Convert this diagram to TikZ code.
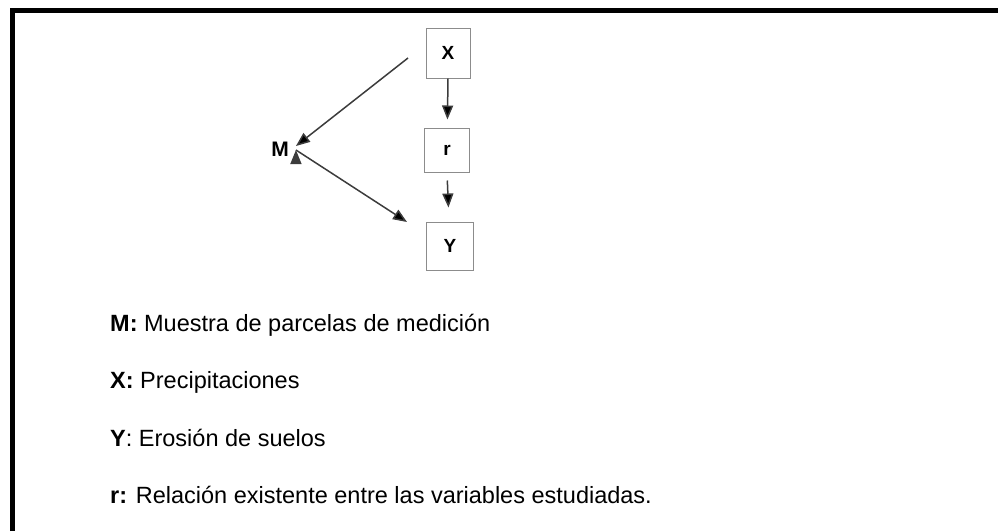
\documentclass[tikz,border=0pt]{standalone}
\usepackage{fontspec}
\setmainfont{Liberation Sans}
\usetikzlibrary{arrows.meta,positioning}

\definecolor{boxgray}{RGB}{140,140,140}
\definecolor{arrowgray}{RGB}{60,60,60}

\begin{document}
\begin{tikzpicture}[x=1pt,y=-1pt,
  var/.style={draw=boxgray,line width=1pt,inner sep=0pt,font=\fontsize{19}{22}\selectfont\bfseries},
  link/.style={draw=arrowgray,line width=1.5pt,-{Triangle[length=14pt,width=11pt]}},
  legend/.style={anchor=base west,inner sep=0pt,font=\fontsize{23.5}{28}\selectfont}]
\useasboundingbox (0,0) rectangle (998,531);
\draw[line width=5pt] (12.5,531) -- (12.5,10) -- (998,10);

\node[var,minimum width=44pt,minimum height=50pt] (x) at (448,53) {X};
\node[var,minimum width=45pt,minimum height=44pt] (r) at (447,150) {r};
\node[var,minimum width=47pt,minimum height=48pt] (y) at (450,246) {Y};
\node[inner sep=0pt,font=\fontsize{21}{24}\selectfont\bfseries] (m) at (280,149) {M};

\coordinate (xm) at (408,58);
\coordinate (my) at (407,222);

\path[link]
(x.south) edge[shorten >=8pt] (r)
(r.south) edge[shorten <=8pt,shorten >=14pt] (y)
(xm) edge ([xshift=7pt,yshift=3pt]m.east)
([xshift=7pt,yshift=-1pt]m.east) edge (my)
;

%% legend
\node[legend] (lm) at (110,331) {\textbf{M:} Muestra de parcelas de medición};
\node[legend] (lx) at (110,388) {\textbf{X:} Precipitaciones};
\node[legend] (ly) at (110,446) {\textbf{Y}: Erosión de suelos};
\node[legend] (lr) at (110,503) {\textbf{r:} Relación existente entre las variables estudiadas.};
\end{tikzpicture}
\end{document}
